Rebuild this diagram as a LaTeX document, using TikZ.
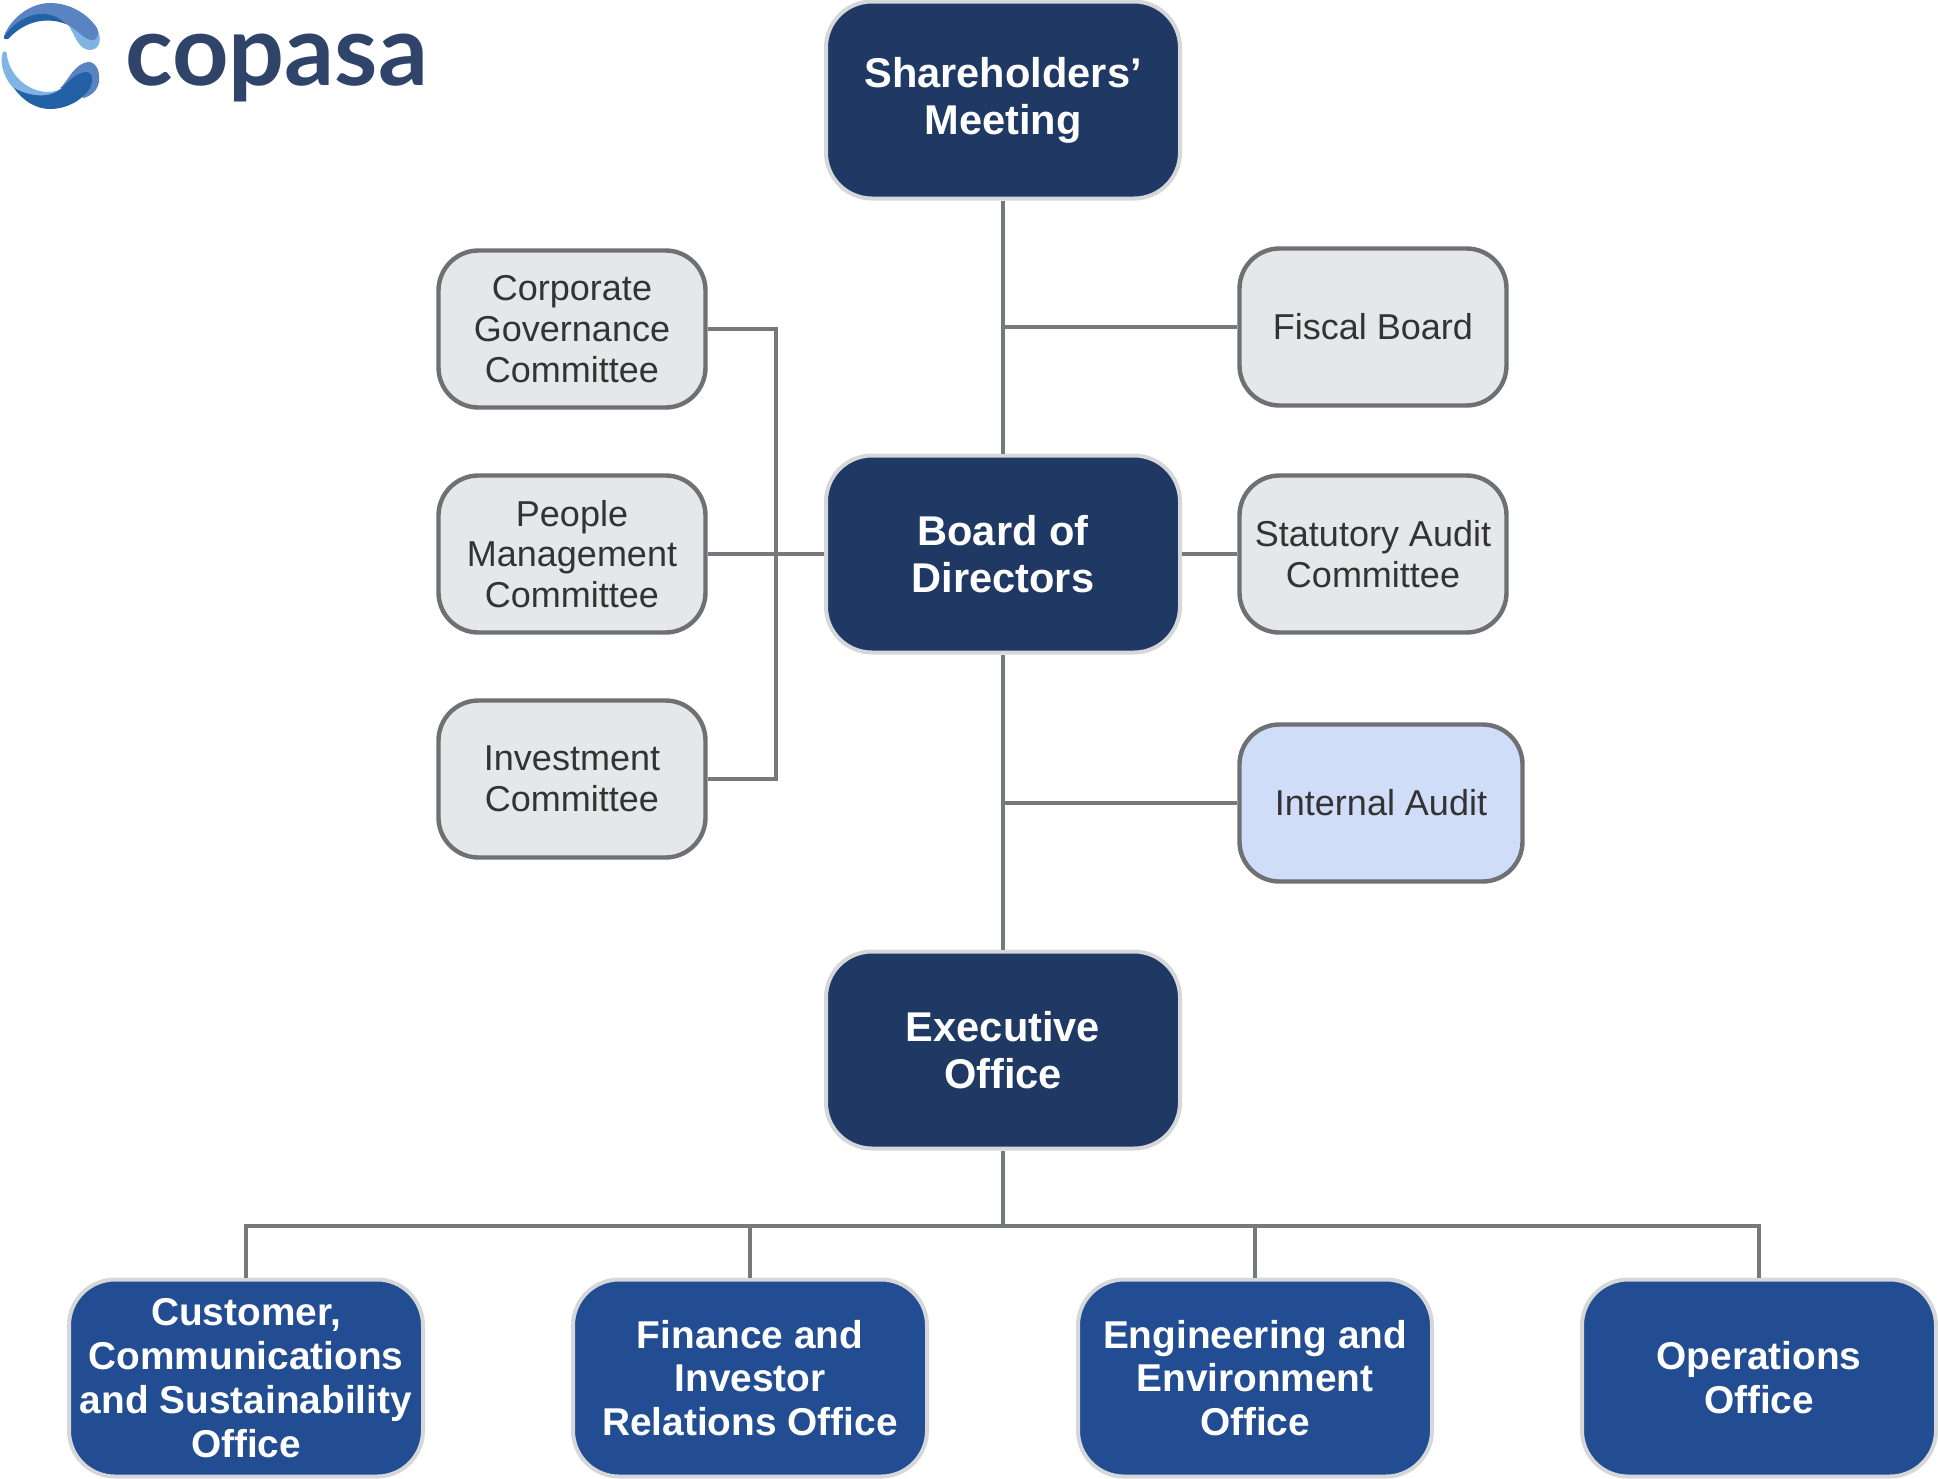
\documentclass[tikz,border=0pt]{standalone}
\usepackage{fontspec}
\setmainfont{Liberation Sans}
\newfontfamily\logofont{Lato}
\definecolor{boardblue}{HTML}{1F3864}
\definecolor{officeblue}{HTML}{224D92}
\definecolor{ringgrey}{HTML}{D6D7D9}
\definecolor{linkgrey}{HTML}{77787B}
\definecolor{panelgrey}{HTML}{E6E7E8}
\definecolor{panelline}{HTML}{6F7073}
\definecolor{auditblue}{HTML}{CFDDF8}
\definecolor{logotext}{HTML}{2F4468}
\definecolor{logomid}{HTML}{5A83C2}
\definecolor{logolight}{HTML}{80B4E4}
\definecolor{logodark}{HTML}{2261A6}
\tikzset{
  boardbox/.style={draw=ringgrey, fill=boardblue, text=white, line width=2pt, rounded corners=23pt,
    minimum width=177pt, minimum height=98.5pt, align=center, font=\fontsize{20.8}{23.5}\selectfont\bfseries},
  officebox/.style={draw=ringgrey, fill=officeblue, text=white, line width=2pt, rounded corners=23pt,
    minimum width=177pt, minimum height=98.5pt, align=center, font=\fontsize{19.4}{21.9}\selectfont\bfseries},
  panelbox/.style={draw=panelline, fill=panelgrey, text=black!80, line width=2.2pt, rounded corners=20pt,
    minimum width=133.5pt, minimum height=78.5pt, align=center, font=\fontsize{18}{20.4}\selectfont},
  auditbox/.style={panelbox, fill=auditblue, minimum width=141.5pt},
  link/.style={draw=linkgrey, line width=2pt},
}
\begin{document}
\begin{tikzpicture}[x=0.5pt, y=-0.5pt]
  \useasboundingbox (0,0) rectangle (1938,1478);
  % logo
  \fill[logolight] (68,24) .. controls (80,28) and (90,27) .. (96,27) .. controls (103,38) and (100,50) .. (90,50) .. controls (79,50) and (75,36) .. (68,24) -- cycle;
  \fill[logomid] (4,36) .. controls (12,16) and (32,3) .. (50,3) .. controls (70,3) and (88,14) .. (97,28) .. controls (100,36) and (96,42) .. (90,40) .. controls (82,37) and (76,29) .. (66,24) .. controls (50,16) and (25,12) .. (7,38) .. controls (6,40) and (3,39) .. (4,36) -- cycle;
  \fill[logodark] (4,37) .. controls (10,27) and (25,14) .. (42,14) .. controls (52,14) and (60,18) .. (66,24) .. controls (50,18) and (28,18) .. (8,39) .. controls (6,40) and (3,39) .. (4,37) -- cycle;
  \fill[logomid] (60,88) .. controls (68,82) and (74,62) .. (90,62) .. controls (98,64) and (100,74) .. (99,82) .. controls (97,92) and (90,96) .. (84,98) -- cycle;
  \fill[logolight] (3,52) .. controls (6,50) and (7,53) .. (7,56) .. controls (10,72) and (20,84) .. (36,90) .. controls (45,93) and (55,93) .. (64,87) -- (60,97) .. controls (40,100) and (20,98) .. (10,84) .. controls (4,76) and (-1,62) .. (3,52) -- cycle;
  \fill[logodark] (14,88) .. controls (28,96) and (50,100) .. (63,87) .. controls (70,80) and (76,73) .. (86,72) .. controls (91,72) and (93,76) .. (92,82) .. controls (90,94) and (72,109) .. (50,109) .. controls (36,109) and (23,101) .. (14,88) -- cycle;
  \node[anchor=base west, inner sep=0pt, text=logotext, font=\fontsize{49.3}{49.3}\logofont\bfseries] (logotitle) at (125,85) {copasa};
  % main column
  \node[boardbox] (meeting) at (1003,100) {Shareholders’\\Meeting};
  \node[boardbox] (board) at (1003,554) {Board of\\Directors};
  \node[boardbox] (executive) at (1003,1050) {Executive\\Office};
  % committees
  \node[panelbox] (governance) at (572,329) {Corporate\\Governance\\Committee};
  \node[panelbox] (people) at (572,554) {People\\Management\\Committee};
  \node[panelbox] (investment) at (572,779) {Investment\\Committee};
  % right side
  \node[panelbox] (fiscal) at (1373,327) {Fiscal Board};
  \node[panelbox] (statutory) at (1373,554) {Statutory Audit\\Committee};
  \node[auditbox] (audit) at (1381,803) {Internal Audit};
  % offices
  \node[officebox] (customer) at (246,1378) {Customer,\\Communications\\and Sustainability\\Office};
  \node[officebox] (finance) at (750,1378) {Finance and\\Investor\\Relations Office};
  \node[officebox] (engineering) at (1255,1378) {Engineering and\\Environment\\Office};
  \node[officebox] (operations) at (1759,1378) {Operations\\Office};
  % links
  \coordinate (commbus) at (776,554);
  \coordinate (officebus) at (1003,1226);
  \draw[link] (meeting) -- (board);
  \draw[link] (board) -- (executive);
  \draw[link] (fiscal) -- (fiscal -| meeting);
  \draw[link] (audit) -- (audit -| board);
  \draw[link] (statutory) -- (board);
  \draw[link] (people) -- (board);
  \draw[link] (governance) -| (commbus) |- (investment);
  \draw[link] (executive) -- (officebus);
  \foreach \n in {customer, finance, engineering, operations}
    \draw[link] (officebus) -| (\n);
\end{tikzpicture}
\end{document}
